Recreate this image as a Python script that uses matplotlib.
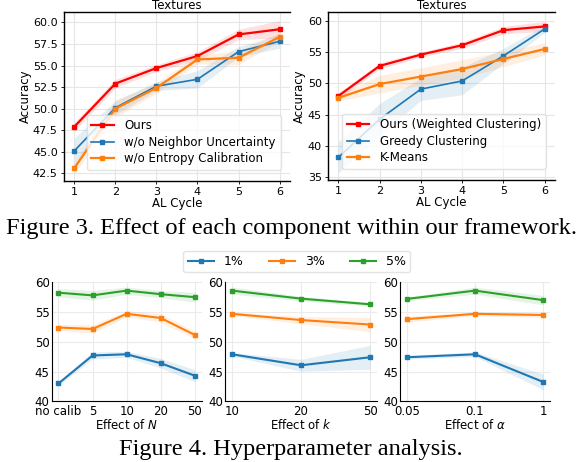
import numpy as np
import matplotlib
matplotlib.use("Agg")
from matplotlib import pyplot as plt

plt.rcParams['font.family'] = ['DejaVu Sans']
plt.rcParams['mathtext.fontset'] = 'dejavusans'

# Figure 3 data
cycles = [1, 2, 3, 4, 5, 6]

ours_a = [47.9, 52.9, 54.7, 56.1, 58.6, 59.2]
ours_a_sd = [0.5, 0.5, 0.4, 0.5, 0.6, 1.0]
no_nu = [45.1, 50.1, 52.6, 53.4, 56.6, 57.8]
no_nu_sd = [1.5, 0.8, 0.5, 1.0, 0.6, 0.8]
no_ec = [43.1, 50.0, 52.4, 55.7, 55.9, 58.3]
no_ec_sd = [0.6, 1.0, 0.6, 0.5, 0.8, 0.5]

ours_b = [48.0, 52.8, 54.6, 56.1, 58.5, 59.1]
ours_b_sd = [0.5, 0.5, 0.4, 0.5, 0.6, 0.8]
greedy = [38.2, 44.3, 49.1, 50.4, 54.4, 58.7]
greedy_sd = [2.5, 2.5, 1.8, 2.2, 1.2, 0.6]
kmeans = [47.7, 49.9, 51.1, 52.3, 53.9, 55.5]
kmeans_sd = [0.5, 1.4, 1.4, 1.5, 1.2, 1.0]

# Figure 4 data
n_labels = ['no calib', '5', '10', '20', '50']
n_1 = [43.0, 47.7, 47.9, 46.4, 44.3]
n_1_sd = [0.3, 0.6, 0.5, 0.8, 1.0]
n_3 = [52.4, 52.15, 54.7, 54.0, 51.15]
n_3_sd = [0.5, 0.7, 0.5, 0.7, 0.6]
n_5 = [58.25, 57.8, 58.6, 58.0, 57.5]
n_5_sd = [0.7, 0.8, 0.6, 0.6, 0.8]

k_labels = ['10', '20', '50']
k_1 = [47.9, 46.05, 47.4]
k_1_sd = [0.3, 1.0, 2.0]
k_3 = [54.7, 53.65, 52.9]
k_3_sd = [0.3, 0.6, 1.2]
k_5 = [58.6, 57.25, 56.3]
k_5_sd = [0.6, 0.4, 0.3]

a_labels = ['0.05', '0.1', '1']
a_1 = [47.4, 47.9, 43.25]
a_1_sd = [0.3, 0.4, 1.3]
a_3 = [53.8, 54.7, 54.5]
a_3_sd = [0.5, 0.3, 0.4]
a_5 = [57.2, 58.6, 57.0]
a_5_sd = [0.3, 0.6, 0.8]

RED = '#ff0000'
BLUE = '#1f77b4'
ORANGE = '#ff7f0e'
GREEN = '#2ca02c'

fig = plt.figure(figsize=(5.82, 4.62), dpi=100)


def band(ax, x, y, sd, c):
    y = np.array(y)
    sd = np.array(sd)
    ax.fill_between(x, y - sd, y + sd, color=c, alpha=0.12, lw=0)


def style_top(ax):
    ax.grid(True, color='#e6e6e6', lw=0.8)
    ax.set_axisbelow(True)
    ax.spines['right'].set_visible(False)
    for s in ['top', 'left', 'bottom']:
        ax.spines[s].set_linewidth(1.0)
    ax.tick_params(labelsize=8, length=2.5, width=0.6, pad=2)
    ax.set_xticks(cycles)
    ax.set_xlim(0.75, 6.25)
    ax.set_title('Textures', fontsize=8.5, pad=1)
    ax.set_xlabel('AL Cycle', fontsize=8.5, labelpad=0)
    ax.set_ylabel('Accuracy', fontsize=8.5, labelpad=1)


def top_legend(ax):
    ax.legend(loc='lower right', fontsize=8.5, frameon=True, framealpha=0.8,
              edgecolor='#dddddd', handlelength=1.9, handletextpad=0.9,
              borderpad=0.4, labelspacing=0.3, bbox_to_anchor=(0.985, 0.03))


# top left
ax1 = fig.add_axes([0.110, 0.608, 0.388, 0.366])
band(ax1, cycles, ours_a, ours_a_sd, RED)
band(ax1, cycles, no_nu, no_nu_sd, BLUE)
band(ax1, cycles, no_ec, no_ec_sd, ORANGE)
ax1.plot(cycles, ours_a, color=RED, lw=1.6, marker='s', ms=2.5, label='Ours')
ax1.plot(cycles, no_nu, color=BLUE, lw=1.2, marker='s', ms=2.5, label='w/o Neighbor Uncertainty')
ax1.plot(cycles, no_ec, color=ORANGE, lw=1.6, marker='s', ms=2.5, label='w/o Entropy Calibration')
ax1.set_yticks(np.arange(42.5, 60.1, 2.5))
ax1.set_yticklabels(['%.1f' % v for v in np.arange(42.5, 60.1, 2.5)])
ax1.set_ylim(41.6, 61.2)
style_top(ax1)
top_legend(ax1)

# top right
ax2 = fig.add_axes([0.5636, 0.6104, 0.390, 0.3636])
band(ax2, cycles, ours_b, ours_b_sd, RED)
band(ax2, cycles, greedy, greedy_sd, BLUE)
band(ax2, cycles, kmeans, kmeans_sd, ORANGE)
ax2.plot(cycles, ours_b, color=RED, lw=1.6, marker='s', ms=2.5, label='Ours (Weighted Clustering)')
ax2.plot(cycles, greedy, color=BLUE, lw=1.2, marker='s', ms=2.5, label='Greedy Clustering')
ax2.plot(cycles, kmeans, color=ORANGE, lw=1.6, marker='s', ms=2.5, label='K-Means')
ax2.set_yticks([35, 40, 45, 50, 55, 60])
ax2.set_ylim(34.6, 61.4)
style_top(ax2)
top_legend(ax2)

fig.text(0.5, 0.506, 'Figure 3. Effect of each component within our framework.',
         ha='center', va='center', family='Liberation Serif', fontsize=17.6)

# bottom row
panels = [
    ([0.0888, 0.1314, 0.2576, 0.2576], n_labels, (n_1, n_1_sd), (n_3, n_3_sd), (n_5, n_5_sd), r'Effect of $N$'),
    ([0.3866, 0.1314, 0.2612, 0.2576], k_labels, (k_1, k_1_sd), (k_3, k_3_sd), (k_5, k_5_sd), r'Effect of $k$'),
    ([0.6873, 0.1314, 0.2577, 0.2576], a_labels, (a_1, a_1_sd), (a_3, a_3_sd), (a_5, a_5_sd), r'Effect of $\alpha$'),
]
handles = None
for rect, labels, s1, s3, s5, xl in panels:
    ax = fig.add_axes(rect)
    x = np.arange(len(labels))
    hs = []
    for (y, sd), c, lab in [(s1, BLUE, '1%'), (s3, ORANGE, '3%'), (s5, GREEN, '5%')]:
        band(ax, x, y, sd, c)
        h, = ax.plot(x, y, color=c, lw=1.5, marker='s', ms=2.5, label=lab)
        hs.append(h)
    handles = hs
    ax.set_xticks(x)
    ax.set_xticklabels(labels)
    ax.set_ylim(40, 60)
    ax.set_yticks([40, 45, 50, 55, 60])
    ax.grid(True, color='#ebebeb', lw=0.8)
    ax.set_axisbelow(True)
    ax.spines['top'].set_visible(False)
    ax.spines['right'].set_visible(False)
    ax.tick_params(labelsize=8.5, length=0, pad=1.5)
    ax.tick_params(axis='x', pad=2.5)
    ax.set_xlabel(xl, fontsize=8.5, labelpad=0)

fig.legend(handles=handles, labels=['1%', '3%', '5%'], loc='center', ncol=3,
           bbox_to_anchor=(0.510, 0.434), fontsize=9, frameon=True,
           edgecolor='#dddddd', handlelength=2.1, columnspacing=2.0,
           borderpad=0.35, handletextpad=0.8)

fig.text(0.5, 0.028, 'Figure 4. Hyperparameter analysis.',
         ha='center', va='center', family='Liberation Serif', fontsize=17.6)

plt.savefig('out.png', dpi=100)
